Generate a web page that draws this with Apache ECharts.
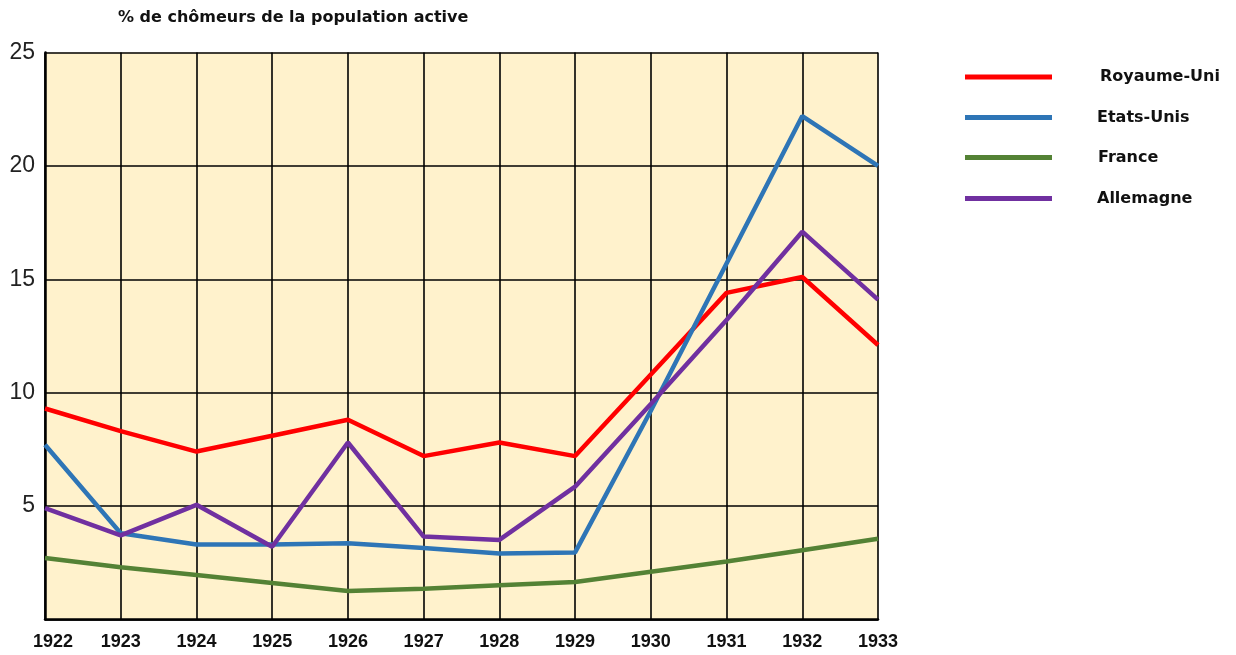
<!DOCTYPE html>
<html>
<head>
<meta charset="utf-8">
<script src="https://cdn.jsdelivr.net/npm/echarts@6/dist/echarts.min.js"></script>
<style>
html,body{margin:0;padding:0;background:#fff;}
#c{width:1236px;height:655px;}
</style>
</head>
<body>
<div id="c"></div>
<script>
const years = ['1922','1923','1924','1925','1926','1927','1928','1929','1930','1931','1932','1933'];
const royaumeUni = [9.3, 8.3, 7.4, 8.1, 8.8, 7.2, 7.8, 7.2, 10.8, 14.4, 15.1, 12.1];
const etatsUnis  = [7.7, 3.8, 3.3, 3.3, 3.35, 3.15, 2.9, 2.95, 9.2, 15.7, 22.2, 20.0];
const france     = [2.7, 2.3, 1.95, 1.6, 1.25, 1.35, 1.5, 1.65, 2.1, 2.55, 3.05, 3.55];
const allemagne  = [4.9, 3.7, 5.05, 3.2, 7.8, 3.65, 3.5, 5.85, 9.5, 13.2, 17.1, 14.1];
const seriesNames = ['Royaume-Uni','Etats-Unis','France','Allemagne'];
const seriesColors = ['#ff0000','#2e75b6','#548235','#7030a0'];
const yTicks = [0, 5, 10, 15, 20, 25];

const chart = echarts.init(document.getElementById('c'), null, {renderer:'canvas'});
const dataSets = [royaumeUni, etatsUnis, france, allemagne];
const legendTops = [67, 107.5, 147.5, 188.5];
const legendPads = [43, 40, 41, 40];

const option = {
  animation: false,
  backgroundColor: '#ffffff',
  title: {
    text: '% de chômeurs de la population active',
    left: 118, top: 10, padding: 0,
    textStyle: {fontFamily: 'DejaVu Sans', fontWeight: 'bold', fontSize: 16, color: '#111'}
  },
  legend: seriesNames.map((n, i) => ({
    data: [n],
    left: 965, top: legendTops[i], padding: 0,
    icon: 'rect',
    itemWidth: 87, itemHeight: 5, itemGap: 0,
    textStyle: {fontFamily: 'DejaVu Sans', fontWeight: 'bold', fontSize: 16, color: '#111', lineHeight: 20, padding: [0,0,0,legendPads[i]]},
    selectedMode: false
  })),
  grid: {
    left: 45, right: 358, top: 52.6, bottom: 35.7,
    show: true, backgroundColor: '#fff2cc', borderWidth: 0
  },
  xAxis: {
    type: 'category',
    data: years,
    boundaryGap: false,
    axisLine: {show: true, lineStyle: {color: '#000', width: 2.5}},
    axisTick: {show: false, interval: 0},
    splitLine: {show: true, interval: 0, lineStyle: {color: '#000', width: 1.6}},
    axisLabel: {
      interval: 0, hideOverlap: false,
      margin: 14, fontFamily: 'Liberation Sans', fontWeight: 'bold', fontSize: 18, color: '#111',
      formatter: (v, idx) => (idx === 0 ? '{first|' + v + '}' : v),
      rich: {first: {fontFamily: 'Liberation Sans', fontWeight: 'bold', fontSize: 18, color: '#111', padding: [0,0,0,16]}}
    }
  },
  yAxis: {
    type: 'value',
    min: yTicks[0], max: yTicks[yTicks.length-1], interval: 5,
    axisLine: {show: true, lineStyle: {color: '#000', width: 2.5}},
    axisTick: {show: false},
    splitLine: {show: true, lineStyle: {color: '#000', width: 1.6}},
    axisLabel: {
      margin: 10, fontFamily: 'Liberation Sans', fontSize: 23, color: '#222',
      formatter: v => (v === 0 ? '' : String(v))
    }
  },
  series: seriesNames.map((n, i) => ({
    name: n,
    type: 'line',
    data: dataSets[i],
    symbol: 'none',
    smooth: false,
    color: seriesColors[i],
    lineStyle: {width: 4.5, color: seriesColors[i]},
    emphasis: {disabled: true}
  }))
};
chart.setOption(option);
</script>
</body>
</html>
